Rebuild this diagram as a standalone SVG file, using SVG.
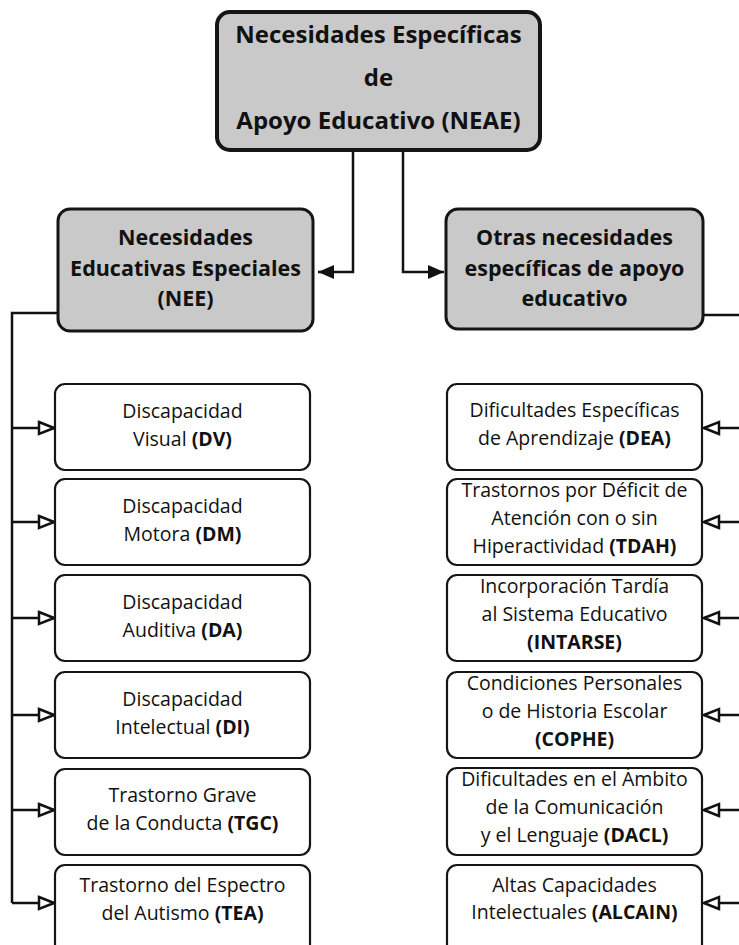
<svg xmlns="http://www.w3.org/2000/svg" width="739" height="945" viewBox="0 0 739 945">
<style>
.bg{fill:#ffffff}
.main{fill:#c9c9c9;stroke:#151515;stroke-width:4}
.cat{fill:#c9c9c9;stroke:#151515;stroke-width:3}
.leaf{fill:#ffffff;stroke:#151515;stroke-width:2.2}
.con{fill:none;stroke:#111;stroke-width:2.5}
text{font-family:"Open Sans","Liberation Sans",sans-serif;fill:#111;text-anchor:middle}
.t1{font-size:24px;font-weight:bold}
.t2{font-size:21.5px;font-weight:bold}
.t3{font-size:19.5px}
.b{font-weight:bold}
</style>
<defs>
<marker id="af" markerUnits="userSpaceOnUse" markerWidth="16" markerHeight="14" refX="16" refY="7" orient="auto"><path d="M0,0 L16,7 L0,14 z" fill="#111"/></marker>
<marker id="ao" markerUnits="userSpaceOnUse" viewBox="-2 -2 20 16" markerWidth="20" markerHeight="16" refX="15" refY="6" orient="auto"><path d="M0,0 L15,6 L0,12 z" fill="#fff" stroke="#111" stroke-width="2.5" stroke-linejoin="miter"/></marker>
</defs>
<rect class="bg" x="0" y="0" width="739" height="945"/>
<g id="connectors">
<path class="con" d="M353,152 V272 H318" marker-end="url(#af)"/>
<path class="con" d="M403,152 V272 H444" marker-end="url(#af)"/>
<path class="con" d="M57,313 H12 V903"/>
<path class="con" d="M703,315 H739"/>
<path class="con" d="M12,428 H54" marker-end="url(#ao)"/>
<path class="con" d="M12,522 H54" marker-end="url(#ao)"/>
<path class="con" d="M12,618 H54" marker-end="url(#ao)"/>
<path class="con" d="M12,715 H54" marker-end="url(#ao)"/>
<path class="con" d="M12,810 H54" marker-end="url(#ao)"/>
<path class="con" d="M12,903 H54" marker-end="url(#ao)"/>
<path class="con" d="M739,428 H704" marker-end="url(#ao)"/>
<path class="con" d="M739,522 H704" marker-end="url(#ao)"/>
<path class="con" d="M739,618 H704" marker-end="url(#ao)"/>
<path class="con" d="M739,715 H704" marker-end="url(#ao)"/>
<path class="con" d="M739,810 H704" marker-end="url(#ao)"/>
<path class="con" d="M739,903 H704" marker-end="url(#ao)"/>
</g>
<g id="neae">
<rect class="main" x="217" y="12" width="323" height="138" rx="13"/>
<text class="t1" x="378.5" y="43">Necesidades Específicas</text>
<text class="t1" x="378.5" y="86">de</text>
<text class="t1" x="378.5" y="129">Apoyo Educativo (NEAE)</text>
</g>
<g id="nee">
<rect class="cat" x="58" y="209" width="255" height="122" rx="12"/>
<text class="t2" x="185.5" y="245">Necesidades</text>
<text class="t2" x="185.5" y="276">Educativas Especiales</text>
<text class="t2" x="185.5" y="306">(NEE)</text>
</g>
<g id="otras">
<rect class="cat" x="446" y="209" width="257" height="120" rx="12"/>
<text class="t2" x="574.5" y="245">Otras necesidades</text>
<text class="t2" x="574.5" y="276">específicas de apoyo</text>
<text class="t2" x="574.5" y="306">educativo</text>
</g>
<g id="dv">
<rect class="leaf" x="55" y="384" width="255" height="86" rx="10"/>
<text class="t3" x="182.5" y="418">Discapacidad</text>
<text class="t3" x="182.5" y="446">Visual <tspan class="b">(DV)</tspan></text>
</g>
<g id="dm">
<rect class="leaf" x="55" y="479" width="255" height="86" rx="10"/>
<text class="t3" x="182.5" y="513">Discapacidad</text>
<text class="t3" x="182.5" y="541">Motora <tspan class="b">(DM)</tspan></text>
</g>
<g id="da">
<rect class="leaf" x="55" y="575" width="255" height="86" rx="10"/>
<text class="t3" x="182.5" y="609">Discapacidad</text>
<text class="t3" x="182.5" y="637">Auditiva <tspan class="b">(DA)</tspan></text>
</g>
<g id="di">
<rect class="leaf" x="55" y="672" width="255" height="86" rx="10"/>
<text class="t3" x="182.5" y="706">Discapacidad</text>
<text class="t3" x="182.5" y="734">Intelectual <tspan class="b">(DI)</tspan></text>
</g>
<g id="tgc">
<rect class="leaf" x="55" y="769" width="255" height="86" rx="10"/>
<text class="t3" x="182.5" y="802">Trastorno Grave</text>
<text class="t3" x="182.5" y="830">de la Conducta <tspan class="b">(TGC)</tspan></text>
</g>
<g id="tea">
<rect class="leaf" x="55" y="865" width="255" height="90" rx="10"/>
<text class="t3" x="182.5" y="892">Trastorno del Espectro</text>
<text class="t3" x="182.5" y="920">del Autismo <tspan class="b">(TEA)</tspan></text>
</g>
<g id="dea">
<rect class="leaf" x="447" y="384" width="255" height="86" rx="10"/>
<text class="t3" x="574.5" y="417">Dificultades Específicas</text>
<text class="t3" x="574.5" y="445">de Aprendizaje <tspan class="b">(DEA)</tspan></text>
</g>
<g id="tdah">
<rect class="leaf" x="447" y="479" width="255" height="86" rx="10"/>
<text class="t3" x="574.5" y="497">Trastornos por Déficit de</text>
<text class="t3" x="574.5" y="525">Atención con o sin</text>
<text class="t3" x="574.5" y="553">Hiperactividad <tspan class="b">(TDAH)</tspan></text>
</g>
<g id="intarse">
<rect class="leaf" x="447" y="575" width="255" height="86" rx="10"/>
<text class="t3" x="574.5" y="593">Incorporación Tardía</text>
<text class="t3" x="574.5" y="621">al Sistema Educativo</text>
<text class="t3 b" x="574.5" y="649">(INTARSE)</text>
</g>
<g id="cophe">
<rect class="leaf" x="447" y="672" width="255" height="86" rx="10"/>
<text class="t3" x="574.5" y="690">Condiciones Personales</text>
<text class="t3" x="574.5" y="718">o de Historia Escolar</text>
<text class="t3 b" x="574.5" y="746">(COPHE)</text>
</g>
<g id="dacl">
<rect class="leaf" x="447" y="768" width="255" height="87" rx="10"/>
<text class="t3" x="574.5" y="786">Dificultades en el Ámbito</text>
<text class="t3" x="574.5" y="814">de la Comunicación</text>
<text class="t3" x="574.5" y="842">y el Lenguaje <tspan class="b">(DACL)</tspan></text>
</g>
<g id="alcain">
<rect class="leaf" x="447" y="865" width="255" height="90" rx="10"/>
<text class="t3" x="574.5" y="892">Altas Capacidades</text>
<text class="t3" x="574.5" y="919">Intelectuales <tspan class="b">(ALCAIN)</tspan></text>
</g>
</svg>
